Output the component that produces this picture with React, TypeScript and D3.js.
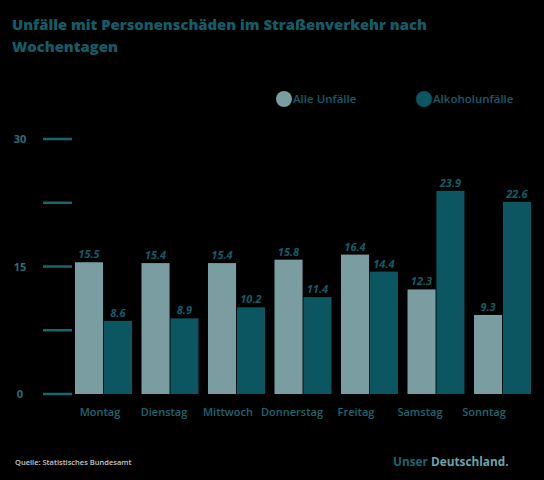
import { useEffect, useRef } from "react"
import * as d3 from "d3"

const days = ["Montag", "Dienstag", "Mittwoch", "Donnerstag", "Freitag", "Samstag", "Sonntag"]
const alleUnfaelle = [15.5, 15.4, 15.4, 15.8, 16.4, 12.3, 9.3]
const alkoholUnfaelle = [8.6, 8.9, 10.2, 11.4, 14.4, 23.9, 22.6]
const seriesNames = ["Alle Unfälle", "Alkoholunfälle"]
const yTicks = [0, 7.5, 15, 22.5, 30]
const yLabels = [0, 15, 30]

const W = 544
const H = 480
const colors = ["#7a9da2", "#0b5661"]
const teal = "#135d68"

export default function App() {
  const svgRef = useRef<SVGSVGElement>(null)

  useEffect(() => {
    document.body.style.margin = "0"
    document.body.style.background = "#000"
    if (!svgRef.current) return

    const svg = d3.select(svgRef.current)
    svg.selectAll("*").remove()
    svg.attr("width", W).attr("height", H).style("display", "block")
      .style("font-family", "'Open Sans', sans-serif")

    svg.append("rect").attr("width", W).attr("height", H).attr("fill", "#000")

    // Title
    const title = svg.append("text")
      .attr("x", 12).attr("y", 30)
      .attr("fill", teal)
      .style("font-size", "14.8px")
      .style("font-weight", "800")
    title.append("tspan").attr("x", 12).text("Unfälle mit Personenschäden im Straßenverkehr nach")
    title.append("tspan").attr("x", 12).attr("dy", 22).text("Wochentagen")

    // Legend
    const legendX = [284, 424]
    seriesNames.forEach((name, i) => {
      const g = svg.append("g").attr("transform", `translate(${legendX[i]},99)`)
      g.append("circle").attr("r", 8).attr("fill", colors[i])
      g.append("text").attr("x", 9).attr("y", 4)
        .attr("fill", teal)
        .style("font-size", "11.5px")
        .style("font-weight", "600")
        .text(name)
    })

    // Scales
    const y = d3.scaleLinear().domain([0, 30]).range([394, 139])
    const x0 = d3.scaleBand().domain(days).range([75, 531]).paddingInner(0.143).paddingOuter(0)
    const x1 = d3.scaleBand().domain(seriesNames).range([0, x0.bandwidth()]).paddingInner(0.03)
    // category labels sit on their own, slightly narrower band
    const xLab = d3.scaleBand().domain(days).range([68, 516])

    // Y ticks
    svg.append("g").selectAll("line").data(yTicks).join("line")
      .attr("x1", 43).attr("x2", 72)
      .attr("y1", (d) => y(d)).attr("y2", (d) => y(d))
      .attr("stroke", "#17676e").attr("stroke-width", 2.5)

    svg.append("g").selectAll("text").data(yLabels).join("text")
      .attr("x", 20).attr("y", (d) => y(d) + 4)
      .attr("text-anchor", "middle")
      .attr("fill", "#2a6d78")
      .style("font-size", "11px")
      .style("font-weight", "bold")
      .text((d) => d)

    // Bars
    const series = [alleUnfaelle, alkoholUnfaelle]
    const groups = svg.append("g").selectAll("g").data(days).join("g")
      .attr("transform", (d) => `translate(${x0(d)},0)`)

    series.forEach((vals, si) => {
      groups.append("rect")
        .attr("x", x1(seriesNames[si]) || 0)
        .attr("y", (_d, i) => y(vals[i]))
        .attr("width", x1.bandwidth())
        .attr("height", (_d, i) => y(0) - y(vals[i]))
        .attr("fill", colors[si])

      groups.append("text")
        .attr("x", (x1(seriesNames[si]) || 0) + x1.bandwidth() / 2)
        .attr("y", (_d, i) => y(vals[i]) - 4)
        .attr("text-anchor", "middle")
        .attr("fill", teal)
        .style("font-size", "11px")
        .style("font-weight", "bold")
        .style("font-style", "italic")
        .text((_d, i) => d3.format(".1f")(vals[i]))
    })

    // X labels
    svg.append("g").selectAll("text").data(days).join("text")
      .attr("x", (d) => (xLab(d) || 0) + xLab.bandwidth() / 2)
      .attr("y", 416)
      .attr("text-anchor", "middle")
      .attr("fill", "#1f6570")
      .style("font-size", "11px")
      .style("font-weight", "600")
      .text((d) => d)

    // Footer
    svg.append("text").attr("x", 15).attr("y", 465)
      .attr("fill", "#c8c8c8")
      .style("font-size", "7.5px")
      .style("font-weight", "600")
      .text("Quelle: Statistisches Bundesamt")

    const logo = svg.append("text").attr("x", 393).attr("y", 466)
      .style("font-size", "11.8px")
      .style("font-weight", "bold")
    logo.append("tspan").attr("fill", "#1f6570").text("Unser ")
    logo.append("tspan").attr("fill", "#6fa3ab").text("Deutschland.")
  }, [])

  return <svg ref={svgRef} />
}
